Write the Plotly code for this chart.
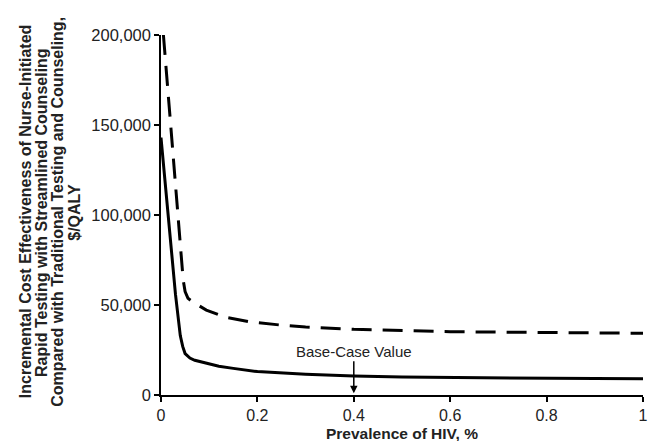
import plotly.graph_objects as go

# Data
prev_solid = [0, 0.01, 0.02, 0.03, 0.04, 0.045, 0.05, 0.06, 0.07, 0.09, 0.1, 0.12,
              0.15, 0.2, 0.3, 0.4, 0.5, 0.6, 0.7, 0.8, 0.9, 1.0]
icer_solid = [143000, 114000, 84000, 56000, 33000, 27000, 23000, 20500, 19300, 18000,
              17500, 16000, 14800, 13000, 11500, 10500, 10000, 9700, 9500, 9300, 9100, 9000]

prev_dash = [0.005, 0.02, 0.035, 0.046, 0.05, 0.056, 0.07, 0.094, 0.135, 0.183, 0.25,
             0.3, 0.4, 0.5, 0.6, 0.8, 1.0]
icer_dash = [200000, 150000, 100500, 64000, 57500, 53700, 51000, 47200, 43100, 40700,
             38800, 37800, 36500, 35700, 35200, 34700, 34300]

y_ticks = [0, 50000, 100000, 150000, 200000]
x_ticks = [0, 0.2, 0.4, 0.6, 0.8, 1]
base_case = 0.4

y_title_lines = [
    "Incremental Cost Effectiveness of Nurse-Initiated",
    "Rapid Testing with Streamlined Counseling",
    "Compared with Traditional Testing and Counseling,",
    "$/QALY",
]

FONT = "Liberation Sans, Arial, sans-serif"
OFF = 8  # page body margin

fig = go.Figure()
fig.add_trace(go.Scatter(x=prev_dash, y=icer_dash, mode="lines",
                         line=dict(color="black", width=3, dash="20px,11px"),
                         showlegend=False))
fig.add_trace(go.Scatter(x=prev_solid, y=icer_solid, mode="lines",
                         line=dict(color="black", width=3),
                         showlegend=False))

W, H = 660 - OFF, 441 - OFF
L, R, T, B = 161 - OFF, 13, 35 - OFF, 46
pw = W - L - R
ph = H - T - B

fig.update_layout(
    width=W, height=H,
    margin=dict(l=L, r=R, t=T, b=B),
    paper_bgcolor="white", plot_bgcolor="white",
    font=dict(family=FONT, color="black", size=16),
    xaxis=dict(range=[0, 1], tickvals=x_ticks, showgrid=False, zeroline=False,
               showline=True, linecolor="black", linewidth=1.5,
               ticks="outside", ticklen=5, tickwidth=1.5, tickcolor="black",
               tickfont=dict(size=16, family=FONT, color="#222")),
    yaxis=dict(range=[0, 200000], tickvals=y_ticks, tickformat=",", showgrid=False,
               zeroline=False, showline=True, linecolor="black", linewidth=1.5,
               ticks="outside", ticklen=5, tickwidth=1.5, tickcolor="black",
               tickfont=dict(size=16.5, family=FONT, color="#222")),
)

# Y-axis title, four lines (screen pixel centres)
for txt, px in zip(y_title_lines, [24, 40, 56, 73]):
    fig.add_annotation(xref="paper", yref="paper",
                       x=(px - 161) / pw, y=(395 - 212) / ph,
                       text="<b>%s</b>" % txt, textangle=-90, showarrow=False,
                       xanchor="center", yanchor="middle",
                       font=dict(size=16, family=FONT, color="#222"))

# X-axis title
fig.add_annotation(xref="paper", yref="paper", x=0.5, y=(395 - 433) / ph,
                   text="<b>Prevalence of HIV, %</b>", showarrow=False,
                   xanchor="center", yanchor="middle",
                   font=dict(size=15.5, family=FONT, color="#222"))

# Base-case arrow
fig.add_annotation(x=base_case, y=1000, xref="x", yref="y",
                   text="Base-Case Value", showarrow=True,
                   ax=0, ay=-42, arrowhead=2, arrowsize=1, arrowwidth=1.5,
                   arrowcolor="black", standoff=0,
                   font=dict(size=15, family=FONT, color="#222"))

fig.write_html("out.html")
